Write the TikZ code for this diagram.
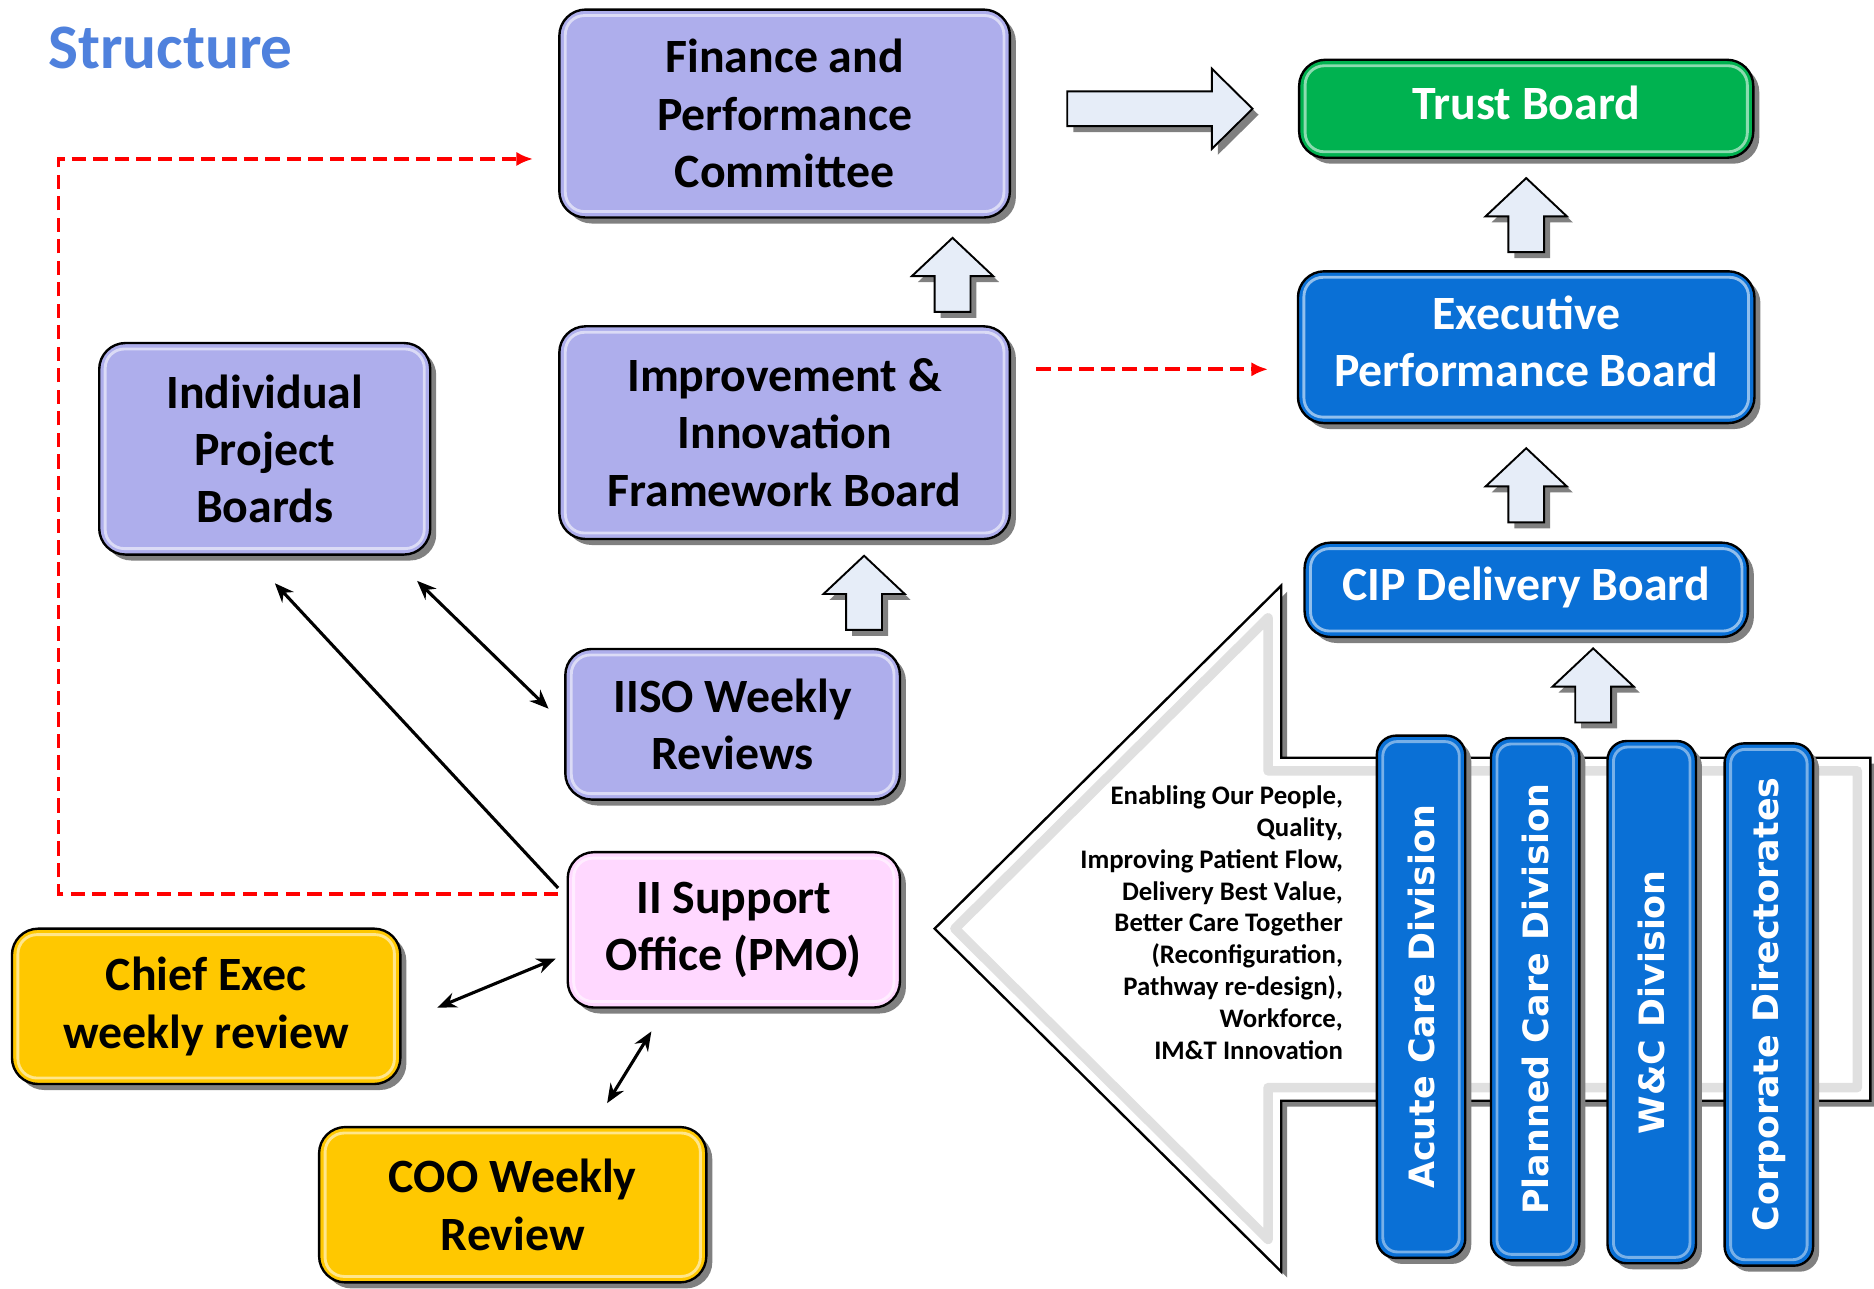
\documentclass[tikz,border=0pt]{standalone}
\usepackage{fontspec}
\setmainfont{Carlito}
\newfontfamily\divfont{DejaVu Sans}
\usetikzlibrary{shapes, calc, arrows.meta, shadows, positioning}

\definecolor{lav}{RGB}{174,174,236}
\definecolor{grn}{RGB}{0,178,80}
\definecolor{blu}{RGB}{10,112,214}
\definecolor{pnk}{RGB}{255,216,255}
\definecolor{ylw}{RGB}{255,200,0}
\definecolor{arw}{RGB}{230,237,248}
\definecolor{ttl}{RGB}{79,129,221}

\begin{document}
\begin{tikzpicture}[x=0.5pt, y=-0.5pt, >={Stealth[length=8pt, width=6.5pt]}, every node/.style={inner sep=0pt},
    boxshadow/.style={drop shadow={shadow xshift=2.5pt, shadow yshift=-2.5pt, fill=black!50, opacity=1}},
    board/.style={draw=black, line width=1pt, rounded corners=11pt, align=center, boxshadow, font=\fontsize{20}{24}\selectfont\bfseries},
    whiteboard/.style={board, text=white, text depth=5pt},
    divbar/.style={board, fill=blu, text=white, rounded corners=8pt, minimum width=37pt, minimum height=218.5pt, font=\divfont\bfseries\fontsize{14.6}{17}\selectfont},
    blockarr/.style={draw=black, line width=0.8pt, fill=arw, boxshadow},
    link/.style={<->, line width=1.3pt},
    dashlink/.style={->, red, line width=1.6pt, dash pattern=on 6pt off 3pt, >={Latex[length=7pt, width=6pt]}},
    uparr/.pic={\draw[blockarr] (-15,0) -- (-15,-30) -- (-34,-30) -- (0,-62) -- (34,-30) -- (15,-30) -- (15,0) -- cycle;}]

\path[fill=white, use as bounding box] (0,0) rectangle (1568,1078);

\node[anchor=base west, text=ttl, font=\fontsize{26.5}{30}\selectfont\bfseries] (title) at (40,57) {Structure};

% big arrow behind the divisions
\draw[draw=black, line width=1pt, fill=white, boxshadow] (782,777) -- (1072,490) -- (1072,634) -- (1565,634) -- (1565,921) -- (1072,921) -- (1072,1064) -- cycle;
\draw[black!12, line width=4pt, line join=round] (799,777) -- (1061,517) -- (1061,645) -- (1554,645) -- (1554,910) -- (1061,910) -- (1061,1037) -- cycle;

\node[anchor=east, align=right, font=\fontsize{11.2}{13.35}\selectfont\bfseries] (goals) at (1124,772) {Enabling Our People,\\Quality,\\Improving Patient Flow,\\Delivery Best Value,\\Better Care Together\\(Reconfiguration,\\Pathway re-design),\\Workforce,\\IM\&T Innovation};

\node[divbar] (acute) at (1189,834) {\rotatebox{90}{Acute Care Division}};
\node[divbar] (planned) at (1284.5,836) {\rotatebox{90}{Planned Care Division}};
\node[divbar] (wc) at (1382,838.5) {\rotatebox{90}{W\&C Division}};
\node[divbar] (corp) at (1480,840.5) {\rotatebox{90}{Corporate Directorates}};

% boards
\node[board, fill=lav, minimum width=188.5pt, minimum height=87pt] (fpc) at (656.5,95) {Finance and\\Performance\\Committee};
\node[board, fill=lav, minimum width=188.5pt, minimum height=89pt, below=44.5pt of fpc] (iifb) {Improvement \&\\Innovation\\Framework Board};
\node[board, fill=lav, minimum width=140pt, minimum height=63pt] (iiso) at (613,606) {IISO Weekly\\Reviews};
\node[board, fill=lav, minimum width=138.5pt, minimum height=88.5pt] (ipb) at (221.5,375.5) {Individual\\Project\\Boards};
\node[board, fill=pnk, minimum width=139pt, minimum height=65pt] (pmo) at (614,778) {II Support\\Office (PMO)};
\node[board, fill=ylw, minimum width=162.5pt, minimum height=65pt] (ceo) at (172.5,842) {Chief Exec\\weekly review};
\node[board, fill=ylw, minimum width=162pt, minimum height=65pt] (coo) at (429,1008) {COO Weekly\\Review};
\node[whiteboard, fill=grn, minimum width=190pt, minimum height=41pt] (trust) at (1277,91) {Trust Board};
\node[whiteboard, fill=blu, minimum width=191pt, minimum height=63.5pt, below=46.5pt of trust] (exec) {Executive\\Performance Board};
\node[whiteboard, fill=blu, minimum width=185.5pt, minimum height=39.5pt, below=49pt of exec] (cip) {CIP Delivery Board};

% bevel
\foreach \n/\c in {fpc/lav, iifb/lav, iiso/lav, ipb/lav, pmo/pnk, ceo/ylw, coo/ylw, trust/grn, exec/blu, cip/blu}
    \draw[draw=\c!45!white, line width=1.2pt, rounded corners=8pt] ([shift={(6,6)}]\n.north west) rectangle ([shift={(-6,-6)}]\n.south east);
\foreach \n in {acute, planned, wc, corp}
    \draw[draw=blu!55!white, line width=1.2pt, rounded corners=6pt] ([shift={(6,6)}]\n.north west) rectangle ([shift={(-6,-6)}]\n.south east);

% block arrows
\draw[blockarr] ($(fpc.east)+(47,-18.5)$) -- ++(121,0) -- ++(0,-19) -- ++(34,33.5) -- ++(-34,33.5) -- ++(0,-19) -- ++(-121,0) -- cycle;
\pic at ($(iifb.north)+(140.5,-11)$) {uparr};
\pic at ($(iiso.north)+(110,-15)$) {uparr};
\pic at ($(exec.north)+(0,-15)$) {uparr};
\pic at ($(cip.north)+(0,-16)$) {uparr};
\pic at ($(planned.north)+(48.5,-12)$) {uparr};

% links
\draw[->, line width=1.3pt] ([shift={(-7,31)}]pmo.north west) -- ([shift={(8.5,23)}]ipb.south);
\draw[link] ([shift={(-12,21)}]ipb.south east) -- ([shift={(-13,-13)}]iiso.west);
\draw[link] ([shift={(30,1)}]ceo.east) -- ([shift={(-9,24)}]pmo.west);
\draw[link] ([shift={(-69,19)}]pmo.south) -- ([shift={(79,-19)}]coo.north);

\draw[dashlink] ([shift={(-7,-30)}]pmo.west) -| ($(fpc.west)+(-418,38)$) -- ([shift={(-21,38)}]fpc.west);
\draw[dashlink] ([shift={(21,-53)}]iifb.east) -- ([shift={(-24,18.5)}]exec.west);

\end{tikzpicture}
\end{document}
